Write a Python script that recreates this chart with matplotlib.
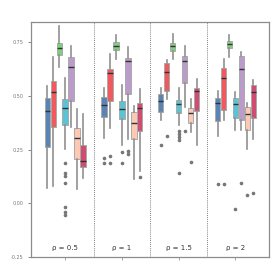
import numpy as np
import matplotlib
matplotlib.use("Agg")
import matplotlib.pyplot as plt

groups = ["ρ = 0.5", "ρ = 1", "ρ = 1.5", "ρ = 2"]
colors = ["#5a84b5", "#f05a5e", "#7ccf7c", "#5bc3d6", "#bb9bcb", "#fdc9b3", "#cf4d70"]

# per series, per group: (whislo, q1, med, q3, whishi)
blue = [(0.070, 0.261, 0.431, 0.489, 0.546), (0.303, 0.403, 0.458, 0.497, 0.539),
        (0.388, 0.424, 0.478, 0.509, 0.539), (0.314, 0.383, 0.466, 0.492, 0.523)]
red = [(0.082, 0.354, 0.517, 0.570, 0.680), (0.349, 0.477, 0.608, 0.624, 0.694),
       (0.485, 0.525, 0.613, 0.652, 0.668), (0.388, 0.435, 0.585, 0.632, 0.671)]
green = [(0.636, 0.691, 0.722, 0.748, 0.826), (0.675, 0.717, 0.734, 0.751, 0.784),
         (0.671, 0.710, 0.734, 0.748, 0.789), (0.680, 0.722, 0.741, 0.756, 0.784)]
cyan = [(0.252, 0.363, 0.443, 0.485, 0.585), (0.272, 0.393, 0.441, 0.478, 0.554),
        (0.365, 0.422, 0.461, 0.481, 0.536), (0.341, 0.396, 0.461, 0.489, 0.520)]
purple = [(0.357, 0.478, 0.636, 0.680, 0.734), (0.300, 0.509, 0.663, 0.678, 0.730),
          (0.447, 0.559, 0.664, 0.688, 0.733), (0.341, 0.388, 0.626, 0.688, 0.706)]
peach = [(0.067, 0.205, 0.303, 0.352, 0.438), (0.113, 0.300, 0.376, 0.424, 0.453),
         (0.334, 0.373, 0.419, 0.443, 0.485), (0.252, 0.341, 0.415, 0.450, 0.466)]
crimson = [(0.117, 0.168, 0.197, 0.272, 0.415), (0.150, 0.338, 0.443, 0.466, 0.532),
           (0.272, 0.431, 0.523, 0.539, 0.578), (0.298, 0.399, 0.517, 0.554, 0.574)]

fliers = {
    "blue": [[], [0.210, 0.186], [0.272], [0.090]],
    "red": [[], [0.222, 0.186], [0.316], [0.090]],
    "green": [[], [], [], []],
    "cyan": [[0.186, 0.143, 0.129, 0.093, -0.016, -0.039, -0.054], [0.238, 0.186],
             [0.335, 0.325, 0.308, 0.295, 0.140], [-0.026]],
    "purple": [[], [0.245, 0.230], [0.337], [0.096]],
    "peach": [[], [], [0.191], [0.039]],
    "crimson": [[], [0.124], [], [0.047]],
}
series = [("blue", blue), ("red", red), ("green", green), ("cyan", cyan),
          ("purple", purple), ("peach", peach), ("crimson", crimson)]

fig = plt.figure(figsize=(2.73, 2.73), dpi=100)
ax = fig.add_axes([0.114, 0.059, 0.871, 0.86])

step = 0.105
for i, (name, vals) in enumerate(series):
    stats = []
    for g, (lo, q1, med, q3, hi) in enumerate(vals):
        stats.append(dict(whislo=lo, q1=q1, med=med, q3=q3, whishi=hi,
                          fliers=fliers[name][g]))
    pos = np.arange(len(groups)) + (i - 3) * step
    ax.bxp(stats, positions=pos, widths=0.095, patch_artist=True, showcaps=False,
           boxprops=dict(facecolor=colors[i], edgecolor="#aaaaaa", linewidth=0.7),
           whiskerprops=dict(color="#909090", linewidth=1.2),
           medianprops=dict(color="#333333", linewidth=1.0),
           flierprops=dict(marker="o", markersize=1.6, markerfacecolor="#777777",
                           markeredgecolor="#777777"))

for x in [0.5, 1.5, 2.5]:
    ax.axvline(x, color="#555555", linestyle=(0, (1, 1.5)), linewidth=0.6)

for g, lab in enumerate(groups):
    ax.text(g, -0.207, lab, ha="center", va="center", fontsize=5, color="#333333")

ax.set_xlim(-0.6, 3.59)
ax.set_ylim(-0.25, 0.845)
ax.set_xticks(range(len(groups)))
ax.set_xticklabels([])
ax.set_yticks([-0.25, 0, 0.25, 0.5, 0.75])
ax.set_yticklabels(["-0.25", "0.00", "0.25", "0.50", "0.75"])
ax.tick_params(axis="y", labelsize=3.5, colors="#777777", length=2, width=0.6)
ax.tick_params(axis="x", length=2, width=0.6, colors="#999999")
for s in ax.spines.values():
    s.set_color("#8c8c8c")
    s.set_linewidth(0.9)

fig.savefig("out.png", dpi=100)
